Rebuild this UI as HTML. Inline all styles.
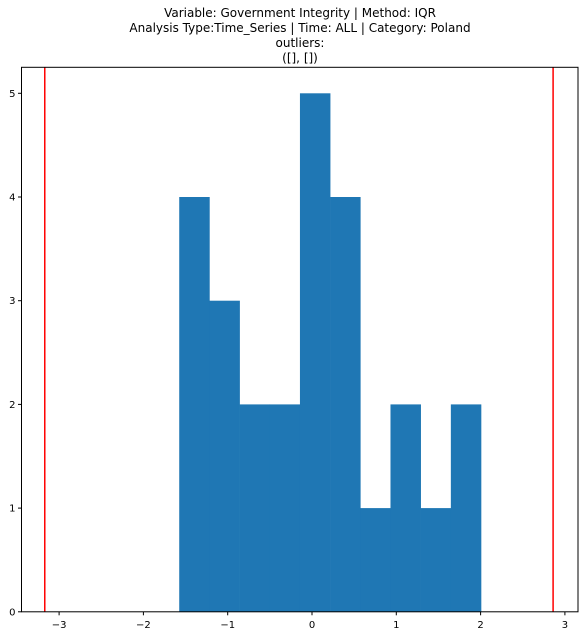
<!DOCTYPE html>
<html><head><meta charset="utf-8"><style>
body{margin:0;background:#fff;}
svg text{font-family:"DejaVu Sans","Liberation Sans",sans-serif;}
</style></head><body>
<svg id="chart" width="585" height="635" xmlns="http://www.w3.org/2000/svg">
<g font-size="12" text-anchor="middle" fill="#000">
<text x="300" y="17">Variable: Government Integrity | Method: IQR</text>
<text x="300" y="32">Analysis Type:Time_Series | Time: ALL | Category: Poland</text>
<text x="300" y="47">outliers:</text>
<text x="300" y="62">([], [])</text>
</g>
<g id="bars"></g>
<g id="lines"></g>
<g id="axes"></g>
</svg>
<script>
const binStart = -1.575;
const binWidth = 0.358;
const counts = [4,3,2,2,5,4,1,2,1,2];
const thresholds = [-3.17, 2.86];
const xTicks = [-3,-2,-1,0,1,2,3];
const xTickLabels = ["\u22123","\u22122","\u22121","0","1","2","3"];
const yTicks = [0,1,2,3,4,5];
const yTickLabels = ["0","1","2","3","4","5"];

const L=21.5,R=578,T=67.3,B=611.8;
const xs=v=>312+v*84.3;
const ys=v=>B-v*103.7;
const NS="http://www.w3.org/2000/svg";
function mk(tag,attrs,parent){const e=document.createElementNS(NS,tag);for(const k in attrs)e.setAttribute(k,attrs[k]);parent.appendChild(e);return e;}
const bars=document.getElementById('bars');
counts.forEach((c,i)=>{
  const x0=xs(binStart+i*binWidth),x1=xs(binStart+(i+1)*binWidth);
  const r=mk('rect',{x:x0,y:ys(c),width:x1-x0+0.3,height:ys(0)-ys(c),fill:'#1f77b4'},bars);
  
  
});
const lines=document.getElementById('lines');
thresholds.forEach(t=>{
  const l=mk('line',{x1:xs(t),x2:xs(t),y1:T,y2:B,stroke:'#ff0000','stroke-width':1.5},lines);
  
  
});
const ax=document.getElementById('axes');
const fr=mk('rect',{x:L,y:T,width:R-L,height:B-T,fill:'none',stroke:'#000','stroke-width':1},ax);


xTicks.forEach((v,i)=>{
  mk('line',{x1:xs(v),x2:xs(v),y1:B,y2:B+3.5,stroke:'#000'},ax);
  const t=mk('text',{x:xs(v),y:B+16,'font-size':10,'text-anchor':'middle'},ax);
  t.textContent=xTickLabels[i];
  
  
});
yTicks.forEach((v,i)=>{
  mk('line',{x1:L-3.5,x2:L,y1:ys(v),y2:ys(v),stroke:'#000'},ax);
  const t=mk('text',{x:L-6,y:ys(v)+3.5,'font-size':10,'text-anchor':'end'},ax);
  t.textContent=yTickLabels[i];
  
  
});
</script>
</body></html>
